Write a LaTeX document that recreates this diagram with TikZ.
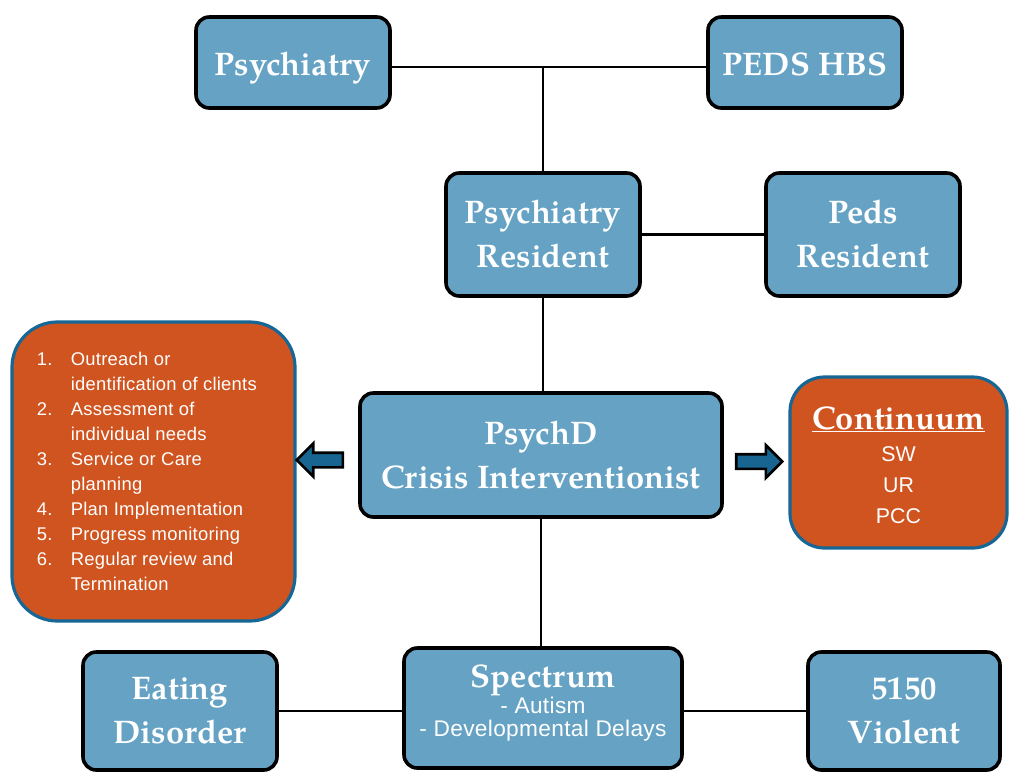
\documentclass[tikz,border=0pt]{standalone}
\usepackage{fontspec}
\newfontfamily\headfont{TeX Gyre Pagella}
\newfontfamily\bodyfont{Liberation Sans}
\newfontfamily\listfont{Liberation Sans}[LetterSpace=1.5]
\usetikzlibrary{shapes.arrows}

\definecolor{boxblue}{RGB}{101,162,196}
\definecolor{stepsorange}{RGB}{208,84,32}
\definecolor{rimblue}{RGB}{22,103,150}
\definecolor{arrowblue}{RGB}{25,101,145}

\tikzset{
  rolebox/.style={draw=black, line width=2.7pt, fill=boxblue, rounded corners=10pt,
    align=center, text=white, inner sep=0pt,
    font=\headfont\bfseries\fontsize{24.5}{33}\selectfont},
  toprole/.style={rolebox, minimum width=145.5pt, minimum height=68.25pt,
    text height=19.4pt, text depth=0pt},
  notebox/.style={draw=rimblue, line width=2.4pt, fill=stepsorange, text=white, inner sep=0pt},
  link/.style={line width=2.2pt, draw=black},
  pointer/.style={single arrow, draw=black, fill=arrowblue, line width=2pt,
    minimum height=34.5pt, minimum width=22.5pt, inner sep=4.5pt,
    single arrow tip angle=90, single arrow head extend=6.75pt}
}

\begin{document}
\begin{tikzpicture}[x=0.75pt, y=-0.75pt]
  \useasboundingbox (0,0) rectangle (1013,782);

  % top row
  \node[toprole] (psy) at (293,62.5) {Psychiatry};
  \node[toprole] (peds) at (805,62.5) {PEDS HBS};

  % residents
  \node[rolebox, minimum width=145.5pt, minimum height=92.25pt] (psyres) at (543,234.5) {Psychiatry\\Resident};
  \node[rolebox, minimum width=145.5pt, minimum height=92.25pt] (pedsres) at (863,234.5) {Peds\\Resident};

  % central role
  \node[rolebox, minimum width=271.5pt, minimum height=93pt] (psychd) at (541,455) {PsychD\\Crisis Interventionist};

  % bottom row
  \node[rolebox, minimum width=145.5pt, minimum height=88.5pt] (eat) at (180,711) {Eating\\Disorder};
  \node[rolebox, minimum width=208.5pt, minimum height=90pt] (spec) at (543,708)
    {Spectrum\\[-13.5pt]{\listfont\mdseries\fontsize{17}{16.5}\selectfont
      \begin{tabular}[t]{@{}c@{}}- Autism\\- Developmental Delays\rule[-11pt]{0pt}{11pt}\end{tabular}}};
  \node[rolebox, minimum width=144pt, minimum height=88.5pt] (viol) at (904,711) {5150\\Violent};

  % case management steps
  \node[notebox, rounded corners=34pt, minimum width=212.25pt, minimum height=224.25pt,
    align=left, font=\listfont\fontsize{13.8}{18.75}\selectfont] (steps) at (153.5,471.5)
    {\makebox[25.5pt][l]{1.}Outreach or\\
     \hspace*{25.5pt}identification of clients\rule{10pt}{0pt}\\
     \makebox[25.5pt][l]{2.}Assessment of\\
     \hspace*{25.5pt}individual needs\\
     \makebox[25.5pt][l]{3.}Service or Care\\
     \hspace*{25.5pt}planning\\
     \makebox[25.5pt][l]{4.}Plan Implementation\\
     \makebox[25.5pt][l]{5.}Progress monitoring\\
     \makebox[25.5pt][l]{6.}Regular review and\\
     \hspace*{25.5pt}Termination};

  % continuum of care
  \node[notebox, rounded corners=26pt, minimum width=162.75pt, minimum height=128.25pt,
    align=center, font=\bodyfont\fontsize{16}{23.25}\selectfont] (cont) at (898.5,462.5)
    {{\headfont\bfseries\fontsize{24.5}{28}\selectfont\rule{0pt}{25pt}\underline{Continuum}}\\[0.7pt]
     SW\\UR\\PCC\rule[-4.5pt]{0pt}{4.5pt}};

  % pointers
  \node[pointer, shape border rotate=180] (toSteps) at (323.5,460) {};
  \node[pointer] (toCont) at (755.5,461.5) {};

  % connectors
  \coordinate (junction) at (psyres.north |- 0,67);
  \draw[link] (psy.east |- junction) -- (peds.west |- junction);
  \draw[link] (junction) -- (psyres.north);
  \draw[link] (psyres.east) -- (pedsres.west);
  \draw[link] (psyres.south) -- (psyres.south |- psychd.north);
  \draw[link] (psychd.south) -- (psychd.south |- spec.north);
  \draw[link] (eat.east) -- (eat.east -| spec.west);
  \draw[link] (viol.west -| spec.east) -- (viol.west);
\end{tikzpicture}
\end{document}
